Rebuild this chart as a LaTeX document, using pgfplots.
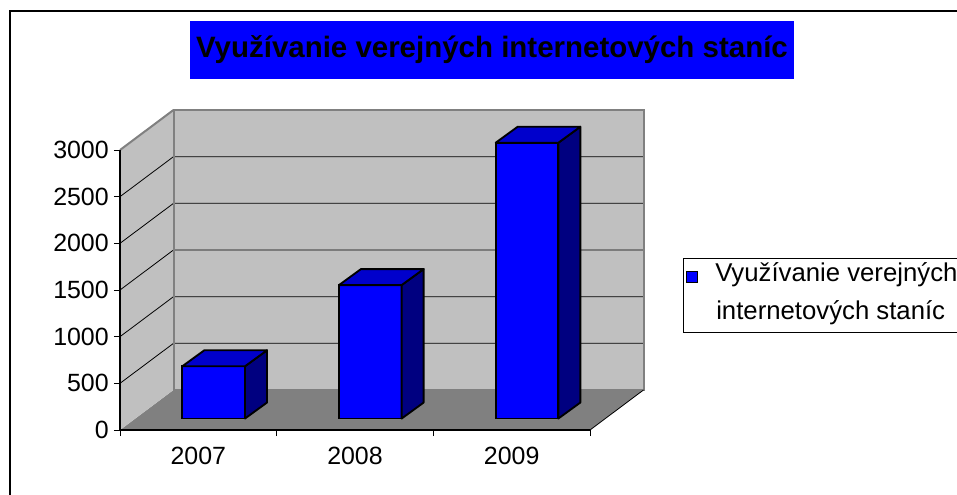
\documentclass[border=0pt]{standalone}
\usepackage{pgfplots}
\pgfplotsset{compat=1.18}
\usepackage{pgfplotstable}
\usepackage{fontspec}
\setmainfont{Liberation Sans}
\definecolor{barfront}{RGB}{0,0,255}
\definecolor{bartop}{RGB}{0,0,204}
\definecolor{barside}{RGB}{0,0,128}
\definecolor{wallc}{RGB}{192,192,192}
\definecolor{floorc}{RGB}{128,128,128}
\pgfdeclareplotmark{nothing}{}
\pgfplotstableread{
x v
0.5 560
1.5 1430
2.5 2955
}\bardata
\begin{document}
\begin{tikzpicture}
\useasboundingbox (0,0) rectangle (717.75pt,370.5pt);
\draw[line width=1.6pt] (7.5pt,-20pt) rectangle (740pt,362.25pt);
\node[fill=barfront, minimum width=453pt, minimum height=43.5pt, inner sep=0pt,
  font=\bfseries\fontsize{22.1pt}{26pt}\selectfont] at (369pt,333pt) {Využívanie verejných internetových staníc};
\begin{axis}[
  at={(90pt,48pt)}, anchor=south west,
  x=117.5pt, y=0.07pt,
  xmin=0, xmax=3, ymin=0, ymax=3000,
  axis x line*=bottom, axis y line*=left,
  axis line style={black, line width=1pt},
  clip=false, axis on top,
  ytick={0,500,...,3000},
  xtick={0,1,2,3}, xticklabels={2007,2008,2009},
  x tick label as interval,
  tick align=outside,
  major tick length=4.5pt,
  tick style={black, line width=0.75pt},
  ticklabel style={font=\fontsize{18.7pt}{22pt}\selectfont},
  /pgf/number format/assume math mode=true,
  yticklabel style={/pgf/number format/1000 sep={}, inner sep=0pt, xshift=-3.75pt},
  xticklabel style={inner sep=0pt, yshift=-8pt},
]
\fill[floorc] (axis cs:0,0) -- (axis cs:3,0) -- (axis cs:3.3415,428.6) -- (axis cs:0.3415,428.6) -- cycle;
\fill[wallc] (axis cs:0,0) -- (axis cs:0,3000) -- (axis cs:0.3415,3428.6) -- (axis cs:0.3415,428.6) -- cycle;
\fill[wallc] (axis cs:0.3415,428.6) rectangle (axis cs:3.3415,3428.6);
\draw[black, line width=0.6pt] (axis cs:0,500) -- (axis cs:0.3415,928.6) -- (axis cs:3.3415,928.6);
\draw[black, line width=0.6pt] (axis cs:0,1000) -- (axis cs:0.3415,1428.6) -- (axis cs:3.3415,1428.6);
\draw[black, line width=0.6pt] (axis cs:0,1500) -- (axis cs:0.3415,1928.6) -- (axis cs:3.3415,1928.6);
\draw[black, line width=0.6pt] (axis cs:0,2000) -- (axis cs:0.3415,2428.6) -- (axis cs:3.3415,2428.6);
\draw[black, line width=0.6pt] (axis cs:0,2500) -- (axis cs:0.3415,2928.6) -- (axis cs:3.3415,2928.6);
\draw[floorc, line width=1.5pt] (axis cs:0.3415,428.6) rectangle (axis cs:3.3415,3428.6);
\draw[floorc, line width=1.5pt] (axis cs:0,3000) -- (axis cs:0.3415,3428.6);
\draw[black, line width=0.6pt] (axis cs:3,0) -- (axis cs:3.3415,428.6);
\addplot[ybar, bar width=47pt, fill=barfront, draw=black, line width=1.4pt,
  xshift=11.5pt, yshift=8.6pt] table[x=x,y=v] {\bardata};
\addplot[scatter, only marks, mark=nothing, xshift=11.5pt, yshift=8.6pt,
  visualization depends on={\thisrow{v}*0.07 \as \hpt},
  scatter/@pre marker code/.code={
    \filldraw[fill=barside, draw=black, line width=1.4pt, line join=round]
      (23.5pt,0pt) -- (40pt,12pt) -- (40pt,{12pt-\hpt pt}) -- (23.5pt,{-\hpt pt}) -- cycle;
    \filldraw[fill=bartop, draw=black, line width=1.4pt, line join=round]
      (-23.5pt,0pt) -- (23.5pt,0pt) -- (40pt,12pt) -- (-7pt,12pt) -- cycle;
  },
  scatter/@post marker code/.code={},
] table[x=x,y=v] {\bardata};
\end{axis}
\draw[line width=0.75pt] (512.25pt,121.5pt) rectangle (760pt,177pt);
\filldraw[fill=barfront, draw=black, line width=0.6pt] (514.5pt,159pt) rectangle (522.75pt,167.25pt);
\node[anchor=base west, inner sep=0pt, font=\fontsize{19.3pt}{22pt}\selectfont] at (536.25pt,159.2pt) {Využívanie verejných};
\node[anchor=base west, inner sep=0pt, font=\fontsize{19.3pt}{22pt}\selectfont] at (537pt,131pt) {internetových staníc};
\end{tikzpicture}
\end{document}
